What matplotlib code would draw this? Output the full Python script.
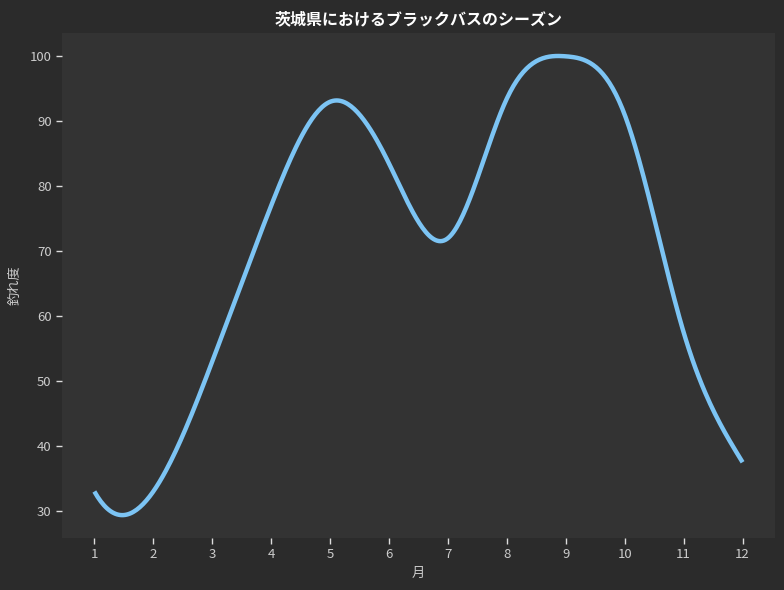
import numpy as np
import matplotlib
matplotlib.use("Agg")
import matplotlib.pyplot as plt

plt.rcParams['font.family'] = ['Noto Sans CJK JP', 'DejaVu Sans']

months = [1, 2, 3, 4, 5, 6, 7, 8, 9, 10, 11, 12]
catch_rate = [33, 33, 53, 77, 93, 83.5, 72, 93.5, 100, 91, 57.5, 37.5]

title = "茨城県におけるブラックバスのシーズン"
xlabel = "月"
ylabel = "釣れ度"


def smooth_spline(x, y, xs):
    """Cubic spline: not-a-knot at the left end, natural at the right end."""
    x = np.asarray(x, float)
    y = np.asarray(y, float)
    n = len(x)
    h = np.diff(x)
    A = np.zeros((n, n))
    b = np.zeros(n)
    A[0, 0] = h[1]
    A[0, 1] = -(h[0] + h[1])
    A[0, 2] = h[0]
    A[-1, -1] = 1.0
    for i in range(1, n - 1):
        A[i, i - 1] = h[i - 1]
        A[i, i] = 2 * (h[i - 1] + h[i])
        A[i, i + 1] = h[i]
        b[i] = 6 * ((y[i + 1] - y[i]) / h[i] - (y[i] - y[i - 1]) / h[i - 1])
    M = np.linalg.solve(A, b)
    idx = np.clip(np.searchsorted(x, xs) - 1, 0, n - 2)
    x0, x1 = x[idx], x[idx + 1]
    hh = x1 - x0
    t0 = x1 - xs
    t1 = xs - x0
    return (M[idx] * t0 ** 3 / (6 * hh) + M[idx + 1] * t1 ** 3 / (6 * hh)
            + (y[idx] / hh - M[idx] * hh / 6) * t0
            + (y[idx + 1] / hh - M[idx + 1] * hh / 6) * t1)


xs = np.linspace(months[0], months[-1], 400)
ys = smooth_spline(months, catch_rate, xs)

fig = plt.figure(figsize=(7.84, 5.90), dpi=100, facecolor="#2b2b2b")
ax = fig.add_axes([0.079, 0.088, 0.9095, 0.856])
ax.set_facecolor("#333333")
ax.plot(xs, ys, color="#7cc4f4", linewidth=3.2, solid_capstyle="butt")

ax.set_xticks(months)
ax.set_yticks([30, 40, 50, 60, 70, 80, 90, 100])
for s in ax.spines.values():
    s.set_visible(False)
ax.tick_params(colors="#dddddd", labelcolor="#cccccc", labelsize=9.5, length=4, width=1)
ax.set_title(title, color="white", fontsize=11.5, fontweight="bold", pad=6)
ax.set_xlabel(xlabel, color="#cccccc", fontsize=9.5, labelpad=4)
ax.set_ylabel(ylabel, color="#cccccc", fontsize=9.5, labelpad=6)

fig.savefig("out.png", dpi=100, facecolor=fig.get_facecolor())
